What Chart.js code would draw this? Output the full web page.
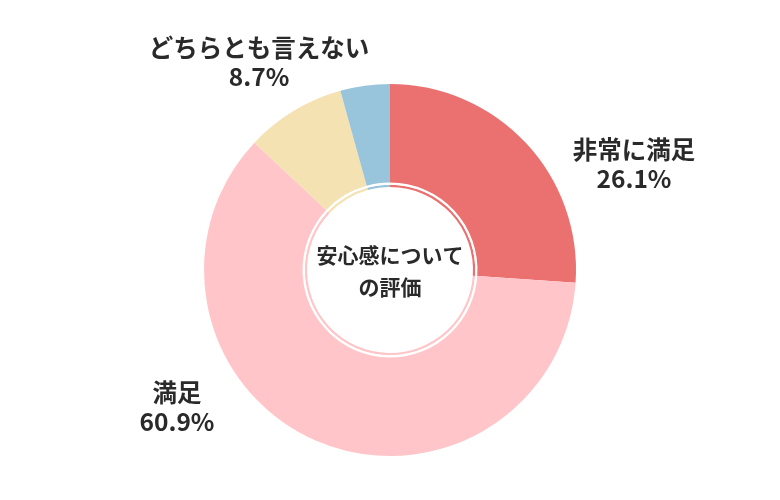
<!DOCTYPE html>
<html lang="ja">
<head>
<meta charset="utf-8">
<script src="https://cdn.jsdelivr.net/npm/chart.js@4"></script>
<style>
    html, body { margin: 0; padding: 0; background: #fff; }
    .chart-wrap { width: 780px; height: 500px; }
</style>
</head>
<body>
<div class="chart-wrap"><canvas class="anshin-chart" width="780" height="500"></canvas></div>
<script>
// 安心感についての評価
const labels = ["非常に満足", "満足", "どちらとも言えない", "満足していない"];
const values = [26.1, 60.9, 8.7, 4.3];
const colors = ["#EB7070", "#FFC5C8", "#F5E2B2", "#98C4DC"];
const shownLabels = [true, true, true, false];
const centerTitle = ["安心感について", "の評価"];

// label placement around the ring (relative to chart centre)
const labelSpots = [
    { dx: 244, dy: -120 },
    { dx: -213, dy: 123 },
    { dx: -131, dy: -222 }
];

const FONT = '"Noto Sans CJK JP", "Noto Sans", sans-serif';

const labelPlugin = {
    id: "anshinLabels",
    afterDraw(chart) {
        let ctx = chart.ctx;
        let meta = chart.getDatasetMeta(0);
        let cx = meta.data[0].x;
        let cy = meta.data[0].y;

        ctx.save();
        ctx.fillStyle = "#2a2a2a";
        ctx.textAlign = "center";
        ctx.textBaseline = "middle";

        let spot = 0;
        labels.forEach((name, i) => {
            if (!shownLabels[i]) return;
            let p = labelSpots[spot++];
            ctx.font = `bold 24.5px ${FONT}`;
            ctx.fillText(name, cx + p.dx, cy + p.dy);
            ctx.fillText(values[i].toFixed(1) + "%", cx + p.dx, cy + p.dy + 29);
        });

        ctx.font = `bold 21px ${FONT}`;
        ctx.fillText(centerTitle[0], cx, cy - 15);
        ctx.fillText(centerTitle[1], cx, cy + 17);
        ctx.restore();
    }
};

let canvas = document.querySelector(".anshin-chart");
let chart = new Chart(canvas, {
    type: "doughnut",
    data: {
        labels: labels,
        datasets: [
            { data: values, backgroundColor: colors, weight: 98.5 },
            { data: values, backgroundColor: "#ffffff", weight: 2.2 },
            { data: values, backgroundColor: colors, weight: 2.3 }
        ]
    },
    options: {
        responsive: false,
        animation: false,
        cutout: 83,
        borderWidth: 0,
        offset: 0,
        hoverOffset: 0,
        layout: {
            padding: { top: 84, bottom: 44, left: 204, right: 204 }
        },
        plugins: {
            legend: { display: false },
            tooltip: { enabled: false }
        }
    },
    plugins: [labelPlugin]
});
</script>
</body>
</html>
